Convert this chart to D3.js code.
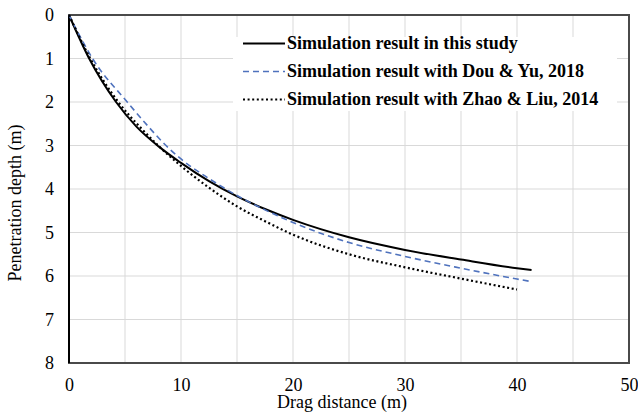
<!DOCTYPE html>
<html>
<head>
<meta charset="utf-8">
<script src="https://cdn.jsdelivr.net/npm/d3@7"></script>
<style>
  body { margin: 0; background: #fff; }
  svg text { font-family: "Liberation Serif", "Times New Roman", serif; }
</style>
</head>
<body>
<svg id="chart" width="638" height="414"></svg>
<script>
// drag distance (m) / penetration depth (m)
const studyX = [0, 1.8, 4.2, 6, 8, 10, 12.5, 15, 17.5, 20, 25, 30, 35, 40, 41.3];
const studyY = [0, 1.0, 2.0, 2.56, 3.02, 3.40, 3.82, 4.17, 4.46, 4.71, 5.11, 5.40, 5.62, 5.82, 5.86];

const douX = [0, 2.1, 5.2, 7, 8.5, 10, 12.5, 15, 17.5, 20, 25, 30, 35, 40, 41.3];
const douY = [0, 1.0, 2.0, 2.54, 2.96, 3.31, 3.76, 4.15, 4.48, 4.77, 5.23, 5.55, 5.82, 6.07, 6.13];

const zhaoX = [0, 1.9, 4.4, 6.5, 8.2, 10, 12.5, 15, 17.5, 20, 25, 30, 35, 40];
const zhaoY = [0, 1.0, 2.0, 2.62, 3.06, 3.47, 3.97, 4.40, 4.74, 5.05, 5.50, 5.80, 6.06, 6.31];

const seriesNames = ["Simulation result in this study",
                     "Simulation result with Dou & Yu, 2018",
                     "Simulation result with Zhao & Liu, 2014"];

const xTicks = [0, 10, 20, 30, 40, 50];
const yTicks = [0, 1, 2, 3, 4, 5, 6, 7, 8];

const svg = d3.select("#chart");
const plotL = 69, plotR = 629, plotT = 15, plotB = 363;

const x = d3.scaleLinear().domain([0, 50]).range([plotL, plotR]);
const y = d3.scaleLinear().domain([0, 8]).range([plotT, plotB]);

// grid
svg.append("g")
    .selectAll("line")
    .data(d3.range(5, 50, 5))
    .join("line")
    .attr("x1", d => x(d)).attr("x2", d => x(d))
    .attr("y1", plotT).attr("y2", plotB)
    .attr("stroke", "#d9d9d9").attr("stroke-width", 1);

svg.append("g")
    .selectAll("line")
    .data(yTicks.slice(1, -1))
    .join("line")
    .attr("x1", plotL).attr("x2", plotR)
    .attr("y1", d => y(d)).attr("y2", d => y(d))
    .attr("stroke", "#d9d9d9").attr("stroke-width", 1);

// legend box (white, hides grid)
svg.append("rect")
    .attr("x", 233).attr("y", 37)
    .attr("width", 384).attr("height", 74)
    .attr("fill", "#fff");

// frame
svg.append("rect")
    .attr("x", plotL).attr("y", plotT)
    .attr("width", plotR - plotL).attr("height", plotB - plotT)
    .attr("fill", "none")
    .attr("stroke", "#4a4a4a").attr("stroke-width", 2);
svg.append("line")
    .attr("x1", plotL).attr("x2", plotL)
    .attr("y1", plotT).attr("y2", plotB)
    .attr("stroke", "#000").attr("stroke-width", 2);

// axes (labels only)
const xAxis = svg.append("g")
    .attr("transform", `translate(0,${plotB})`)
    .call(d3.axisBottom(x).tickValues(xTicks).tickSize(0).tickPadding(0));
xAxis.select(".domain").remove();
xAxis.selectAll("text")
    .attr("y", 28).attr("dy", 0)
    .style("font-size", "18px").attr("fill", "#000");

const yAxis = svg.append("g")
    .attr("transform", `translate(${plotL},0)`)
    .call(d3.axisLeft(y).tickValues(yTicks).tickSize(0).tickPadding(15));
yAxis.select(".domain").remove();
yAxis.selectAll("text")
    .style("font-size", "18px").attr("fill", "#000");

// axis titles
svg.append("text")
    .attr("x", 342).attr("y", 408)
    .attr("text-anchor", "middle")
    .style("font-size", "18px")
    .text("Drag distance (m)");

svg.append("text")
    .attr("transform", "translate(21,203) rotate(-90)")
    .attr("text-anchor", "middle")
    .style("font-size", "18px")
    .text("Penetration depth (m)");

// curves
const styles = [
  { stroke: "#000", width: 2, dash: null },
  { stroke: "#4f72bd", width: 1.6, dash: "6,4" },
  { stroke: "#000", width: 2.2, dash: "2,2.6" }
];
const seriesData = [
  d3.zip(studyX, studyY),
  d3.zip(douX, douY),
  d3.zip(zhaoX, zhaoY)
];

const line = d3.line()
    .x(d => x(d[0]))
    .y(d => y(d[1]))
    .curve(d3.curveMonotoneX);

seriesData.forEach((pts, i) => {
  svg.append("path")
      .datum(pts)
      .attr("d", line)
      .attr("fill", "none")
      .attr("stroke", styles[i].stroke)
      .attr("stroke-width", styles[i].width)
      .attr("stroke-dasharray", styles[i].dash);
});

// legend
const legendY = [48.5, 76.5, 104.5];
seriesNames.forEach((name, i) => {
  svg.append("line")
      .attr("x1", 243).attr("x2", 285)
      .attr("y1", legendY[i] - 5).attr("y2", legendY[i] - 5)
      .attr("stroke", styles[i].stroke)
      .attr("stroke-width", styles[i].width)
      .attr("stroke-dasharray", styles[i].dash);
  svg.append("text")
      .attr("x", 287).attr("y", legendY[i])
      .style("font-size", "18px")
      .style("font-weight", "bold")
      .text(name);
});
</script>
</body>
</html>
